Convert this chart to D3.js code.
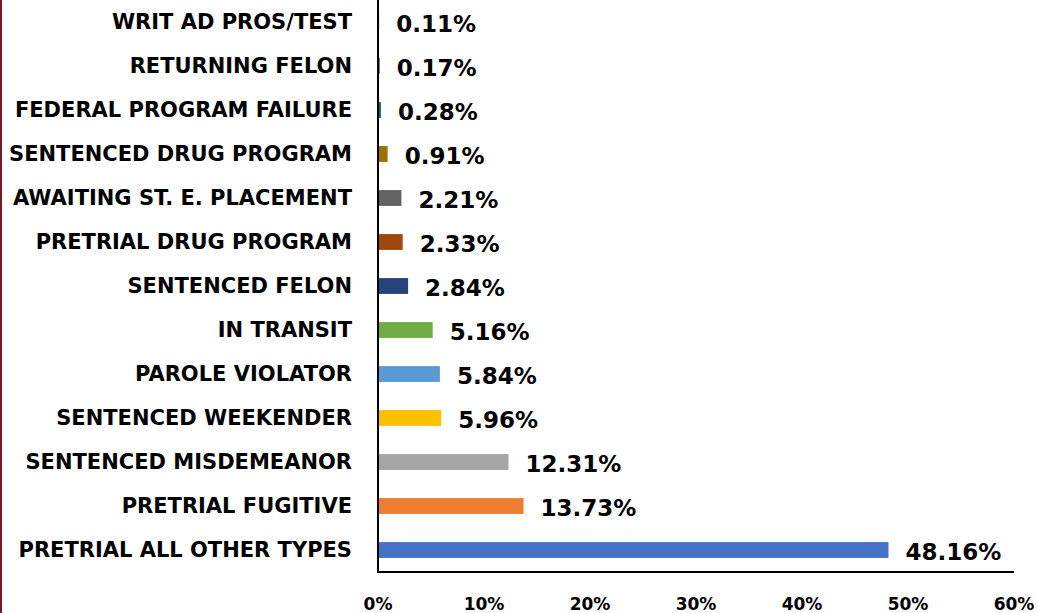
<!DOCTYPE html>
<html>
<head>
<meta charset="utf-8">
<script src="https://cdn.jsdelivr.net/npm/d3@7"></script>
<style>
    body { margin: 0; background: #fff; }
    svg { display: block; }
</style>
</head>
<body>
<div id="chart"></div>
<script>
// Categories, top to bottom
const categories = [
    'WRIT AD PROS/TEST',
    'RETURNING FELON',
    'FEDERAL PROGRAM FAILURE',
    'SENTENCED DRUG PROGRAM',
    'AWAITING ST. E. PLACEMENT',
    'PRETRIAL DRUG PROGRAM',
    'SENTENCED FELON',
    'IN TRANSIT',
    'PAROLE VIOLATOR',
    'SENTENCED WEEKENDER',
    'SENTENCED MISDEMEANOR',
    'PRETRIAL FUGITIVE',
    'PRETRIAL ALL OTHER TYPES'
];
const values = [0.11, 0.17, 0.28, 0.91, 2.21, 2.33, 2.84, 5.16, 5.84, 5.96, 12.31, 13.73, 48.16];
const barColors = [
    '#698ED0', '#43682B', '#255E91', '#997300', '#636363', '#9E480E', '#264478',
    '#70AD47', '#5B9BD5', '#FFC000', '#A5A5A5', '#ED7D31', '#4472C4'
];
const tickValues = [0, 10, 20, 30, 40, 50, 60];

const width = 1038, height = 613;
const font = '"DejaVu Sans", sans-serif';

const svg = d3.select('#chart')
    .append('svg')
    .attr('width', width)
    .attr('height', height);

// dark red border on the left edge
svg.append('rect')
    .attr('x', 0).attr('y', 0)
    .attr('width', 2).attr('height', height)
    .attr('fill', '#7B1A1A');

const x = d3.scaleLinear().domain([0, 60]).range([378, 1014]);
const y = d3.scaleBand().domain(categories).range([0, 572]).paddingInner(0.64).paddingOuter(0.32);

// bars
svg.append('g')
    .selectAll('rect')
    .data(categories)
    .enter()
    .append('rect')
    .attr('x', x(0))
    .attr('y', d => y(d))
    .attr('width', (d, i) => x(values[i]) - x(0))
    .attr('height', y.bandwidth())
    .attr('fill', (d, i) => barColors[i]);

// value labels
svg.append('g')
    .selectAll('text')
    .data(categories)
    .enter()
    .append('text')
    .attr('x', (d, i) => x(values[i]) + 17)
    .attr('y', d => y(d) + y.bandwidth() / 2 + 2)
    .attr('dominant-baseline', 'central')
    .attr('font-family', font)
    .attr('font-weight', 700)
    .attr('font-size', 23)
    .attr('fill', '#000')
    .text((d, i) => values[i].toFixed(2) + '%');

// category labels
svg.append('g')
    .selectAll('text')
    .data(categories)
    .enter()
    .append('text')
    .attr('x', 352)
    .attr('y', d => y(d) + y.bandwidth() / 2)
    .attr('text-anchor', 'end')
    .attr('dominant-baseline', 'central')
    .attr('font-family', font)
    .attr('font-weight', 700)
    .attr('font-size', 21)
    .attr('fill', '#000')
    .text(d => d);

// axes lines
svg.append('line')
    .attr('x1', x(0)).attr('x2', x(0))
    .attr('y1', 0).attr('y2', 572)
    .attr('stroke', '#000').attr('stroke-width', 2);
svg.append('line')
    .attr('x1', x(0) - 1).attr('x2', x(60))
    .attr('y1', 572).attr('y2', 572)
    .attr('stroke', '#000').attr('stroke-width', 2);

// tick labels
svg.append('g')
    .selectAll('text')
    .data(tickValues)
    .enter()
    .append('text')
    .attr('x', d => x(d))
    .attr('y', 610)
    .attr('text-anchor', 'middle')
    .attr('font-family', font)
    .attr('font-weight', 700)
    .attr('font-size', 17)
    .attr('fill', '#000')
    .text(d => d + '%');
</script>
</body>
</html>
